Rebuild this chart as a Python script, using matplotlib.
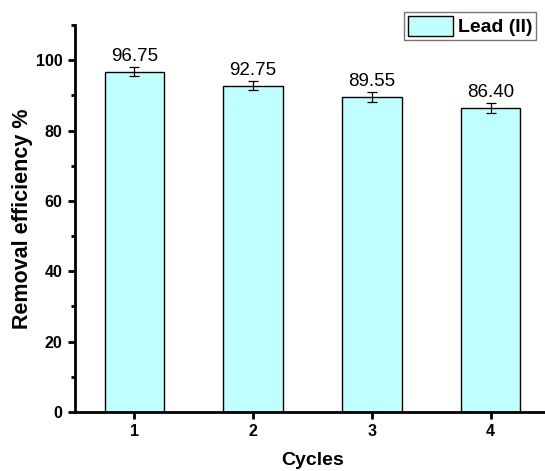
import matplotlib
matplotlib.use("Agg")
import matplotlib.pyplot as plt
from matplotlib.ticker import MultipleLocator

plt.rcParams['font.family'] = ['Liberation Sans', 'DejaVu Sans']

cycles = [1, 2, 3, 4]
efficiency = [96.75, 92.75, 89.55, 86.40]
errors = [1.3, 1.3, 1.3, 1.3]
value_labels = ["96.75", "92.75", "89.55", "86.40"]

fig = plt.figure(figsize=(5.45, 4.71), dpi=100)
ax = fig.add_axes([75 / 545, 1 - 412 / 471, 475 / 545, 387 / 471])

ax.bar(cycles, efficiency, width=0.5, color="#C0FFFF", edgecolor="black",
       linewidth=1.0, label="Lead (II)", zorder=2)
ax.errorbar(cycles, efficiency, yerr=errors, fmt="none", ecolor="black",
            elinewidth=0.9, capsize=3.5, capthick=0.9, zorder=3)

for x, y, e, txt in zip(cycles, efficiency, errors, value_labels):
    ax.annotate(txt, (x, y + e), xytext=(0, 1.5), textcoords="offset points",
                ha="center", va="bottom", fontsize=13.5)

ax.set_xlim(0.5, 4.5)
ax.set_ylim(0, 110)
ax.set_xticks(cycles)
ax.yaxis.set_major_locator(MultipleLocator(20))
ax.yaxis.set_minor_locator(MultipleLocator(10))
ax.set_yticks([0, 20, 40, 60, 80, 100])

for side in ("top", "right"):
    ax.spines[side].set_visible(False)
for side in ("left", "bottom"):
    ax.spines[side].set_linewidth(2.0)

ax.tick_params(axis="both", which="major", direction="out", length=5, width=2,
               labelsize=11.5, pad=4)
ax.tick_params(axis="y", which="minor", direction="out", length=3, width=2)
for lab in ax.get_xticklabels() + ax.get_yticklabels():
    lab.set_fontweight("bold")

ax.set_xlabel("Cycles", fontsize=14, fontweight="bold", labelpad=9)
ax.set_ylabel("Removal efficiency %", fontsize=15.5, fontweight="bold", labelpad=2)

leg = ax.legend(loc="upper right", bbox_to_anchor=(536 / 545, 1 - 12 / 471),
                bbox_transform=fig.transFigure, borderaxespad=0, borderpad=0.2,
                handlelength=2.3, handleheight=1.2, handletextpad=0.25,
                fancybox=False, prop={"size": 14, "weight": "bold"})
leg.get_frame().set_edgecolor("#555555")
leg.get_frame().set_linewidth(1.0)

fig.savefig("out.png", dpi=100)
